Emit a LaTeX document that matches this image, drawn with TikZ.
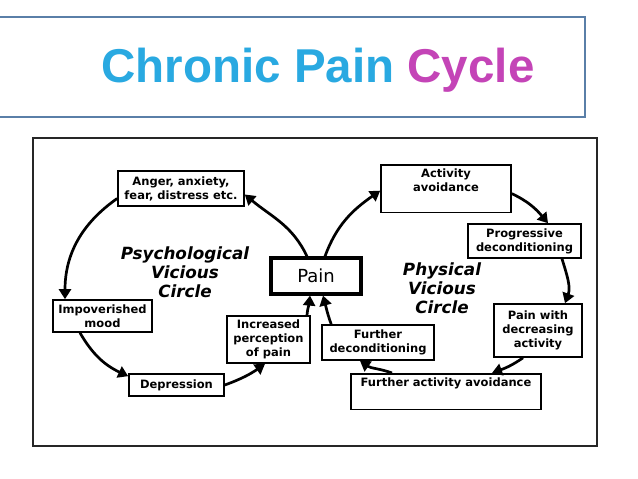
\documentclass[tikz,border=0pt]{standalone}
\usepackage{fontspec}
\setmainfont{DejaVu Sans}
\newfontfamily\titlefont{Liberation Sans}
\usetikzlibrary{arrows.meta}
\definecolor{titleblue}{HTML}{29A9E1}
\definecolor{titlemag}{HTML}{C444B7}
\definecolor{titleframe}{HTML}{5A7FA8}
\begin{document}
\begin{tikzpicture}[x=1pt,y=1pt,
  box/.style={draw=black, line width=1.6pt, fill=white, align=center,
    font=\fontsize{11.5}{14}\bfseries\selectfont, inner xsep=3pt, inner ysep=4pt},
  arr/.style={-{Triangle[length=10pt,width=12pt]}, line width=2.7pt},
  circlabel/.style={align=center, font=\fontsize{16.8}{19}\bfseries\itshape\selectfont}]
\useasboundingbox (0,0) rectangle (638,479);
\fill[white] (0,0) rectangle (638,479);
% title
\draw[titleframe, line width=1.5pt] (-5,362) rectangle (585,462);
\node[anchor=base, font=\titlefont\fontsize{47.5}{52}\bfseries\selectfont] (title) at (318,396)
  {\textcolor{titleblue}{Chronic Pain} \textcolor{titlemag}{Cycle}};
% frame
\draw[black!85, line width=1.6pt] (33,33) rectangle (597,341);
% nodes
\node[box, minimum width=126pt, minimum height=35pt] (anger) at (181,290.5) {Anger, anxiety,\\fear, distress etc.};
\node[box, minimum width=99pt, minimum height=32pt] (impov) at (102.5,163) {Impoverished\\mood};
\node[box, minimum width=95pt, minimum height=22pt] (depr) at (176.5,94) {Depression};
\node[box, minimum width=83pt, minimum height=47pt] (incr) at (268.5,139.5) {Increased\\perception\\of pain};
\node[box, line width=3.2pt, font=\fontsize{18}{20}\selectfont, minimum width=90pt, minimum height=36pt] (pain) at (316,203) {Pain};
\node[box, minimum width=112pt, minimum height=35pt] (fdec) at (378,136.5) {Further\\deconditioning};
\node[box, anchor=north, minimum width=130pt] (actav) at (446,315) {Activity\\avoidance\rule[-17pt]{0pt}{17pt}};
\node[box, minimum width=113pt, minimum height=34pt] (prog) at (524.5,238) {Progressive\\deconditioning};
\node[box, minimum width=88pt, minimum height=53pt] (painw) at (538,148.5) {Pain with\\decreasing\\activity};
\node[box, anchor=north, minimum width=190pt] (fact) at (446,106) {Further activity avoidance\rule[-19pt]{0pt}{19pt}};
\node[circlabel] (psych) at (185,207) {Psychological\\Vicious\\Circle};
\node[circlabel] (phys) at (442,191) {Physical\\Vicious\\Circle};
% arrows - psychological circle
\draw[arr] ([xshift=-9pt]pain.north) to[out=115,in=-40] ([yshift=-6pt]anger.east);
\draw[arr] ([yshift=-10pt]anger.west) to[out=215,in=90] ([xshift=-37.5pt]impov.north);
\draw[arr] ([xshift=-22.5pt]impov.south) to[out=-60,in=155] ([yshift=-3pt]depr.north west);
\draw[arr] (depr.east) to[out=20,in=-145] ([xshift=-3.5pt]incr.south);
\draw[arr] ([xshift=38.5pt]incr.north) to[out=85,in=-95] ([xshift=-6pt]pain.south);
% arrows - physical circle
\draw[arr] ([xshift=10pt]fdec.north west) to[out=110,in=-75] ([xshift=7pt]pain.south);
\draw[arr] ([xshift=9pt]pain.north) to[out=70,in=-145] ([yshift=-2pt]actav.west);
\draw[arr] ([yshift=-5pt]actav.east) to[out=-25,in=130] ([xshift=23.5pt]prog.north);
\draw[arr] ([xshift=37.5pt]prog.south) to[out=-73,in=70] ([xshift=27pt]painw.north);
\draw[arr] ([xshift=-15pt]painw.south) to[out=-145,in=20] ([xshift=46pt]fact.north);
\draw[arr] ([xshift=-54pt]fact.north) to[out=160,in=-35] ([xshift=-18pt]fdec.south);
\end{tikzpicture}
\end{document}
